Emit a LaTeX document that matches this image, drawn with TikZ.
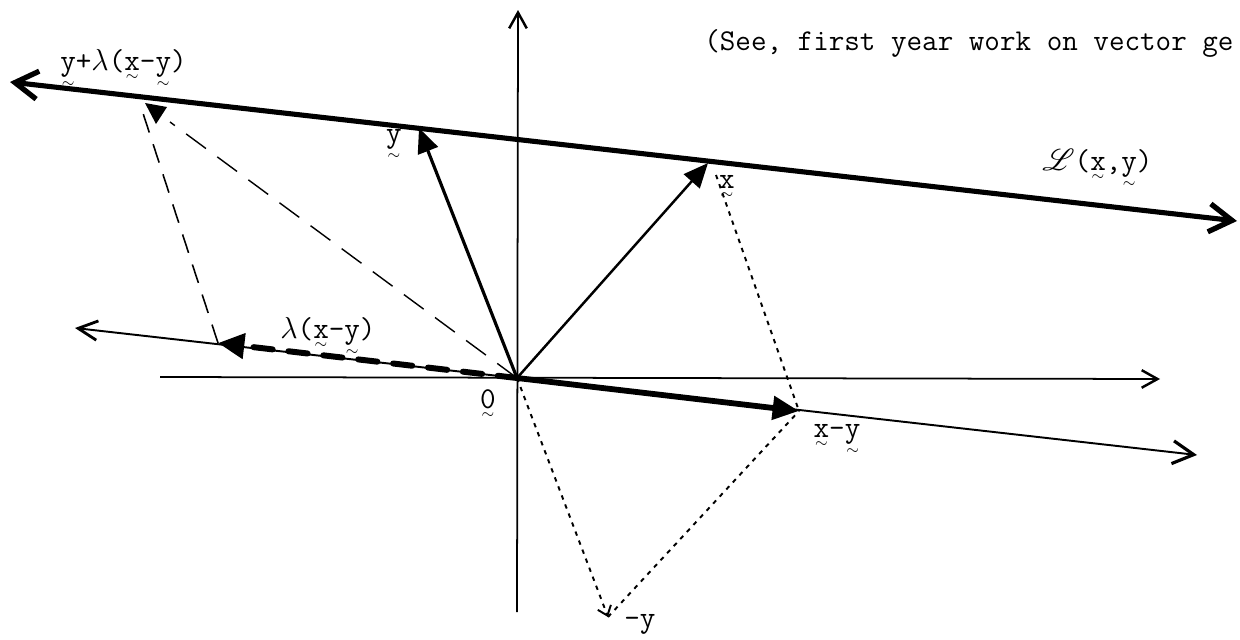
\documentclass[tikz,border=0pt]{standalone}
\usepackage{amsmath}
\usepackage{mathrsfs}
\usepackage{graphicx}
\usepackage{fontspec}
\usetikzlibrary{arrows.meta}
\newcommand{\tl}[2][-0.36em]{\leavevmode\ooalign{#2\cr\hidewidth\raisebox{#1}{$\scriptscriptstyle\sim$}\hidewidth\cr}}
\newcommand{\tly}{\tl[-0.58em]{y}}
\begin{document}
\begin{tikzpicture}[x=0.02cm,y=-0.02cm,
  lbl/.style={inner sep=0pt, font=\ttfamily\fontsize{17.2}{20}\selectfont},
  axis/.style={line width=1pt, -{Straight Barb[length=9pt,width=10pt,line width=1.4pt]}},
  bigline/.style={line width=2.9pt, {Straight Barb[length=13pt,width=16pt,line width=3pt]}-{Straight Barb[length=13pt,width=16pt,line width=3pt]}},
  parline/.style={line width=1.1pt, {Straight Barb[length=11pt,width=11pt,line width=1.6pt]}-{Straight Barb[length=12pt,width=13pt,line width=1.8pt]}},
  vec/.style={line width=1.8pt, -{Triangle[length=14pt,width=12pt]}},
  dvec/.style={line width=3.3pt, -{Triangle[length=15pt,width=13pt]}},
  lamvec/.style={line width=3.4pt, line cap=round, dash pattern=on 11pt off 9pt, -{Triangle[length=15pt,width=14pt]}},
  longdash/.style={line width=0.8pt, dash pattern=on 14pt off 8pt},
  meddash/.style={line width=0.9pt, dash pattern=on 11pt off 7pt},
  dots/.style={line width=1.1pt, dash pattern=on 2.5pt off 3pt}]
\clip (0,0) rectangle (1240,639);
\fill[white] (0,0) rectangle (1240,639);
% points
\coordinate (O) at (517,378);
\coordinate (hl) at (160,377);
\coordinate (hr) at (1160,379);
\coordinate (vt) at (518,10);
\coordinate (vb) at (517,612);
\coordinate (Ll) at (10,82);
\coordinate (Lr) at (1237,221);
\coordinate (pl) at (75,328);
\coordinate (pr) at (1197,455);
\coordinate (Y) at (419,128);
\coordinate (X) at (708,163);
\coordinate (Xs) at (716,175);
\coordinate (XY) at (799,411);
\coordinate (LM) at (218,343);
\coordinate (Pl) at (140,104);
\coordinate (Pr) at (170,122);
\coordinate (NY) at (608,617);
% axes
\draw[axis] (hl) -- (hr);
\draw[axis] (vb) -- (vt);
% lines
\draw[bigline] (Ll) -- (Lr);
\draw[parline] (pl) -- (pr);
% dashed construction
\draw[longdash] (O) -- (Pr);
\draw[meddash] (LM) -- (Pl);
\fill (145,103) -- (167,107) -- (156,124) -- cycle;
% dotted construction
\draw[dots] (Xs) -- (XY);
\draw[dots] (NY) -- (XY);
\draw[dots, -{Straight Barb[length=5pt,width=8pt,line width=1.1pt]}] (O) -- (NY);
% vectors
\draw[vec] (O) -- (Y);
\draw[vec, line width=1.4pt] (O) -- (X);
\draw[dvec] (O) -- (XY);
\draw[lamvec] (O) -- (LM);
% labels
\node[lbl, anchor=base west] (lp) at (60,70) {\tly+$\lambda$(\tl{x}-\tly)};
\node[lbl, anchor=base west] (note) at (704,51) {(See, first year work on vector ge};
\node[lbl, anchor=base] (ly) at (394,142) {\tly};
\node[lbl, anchor=base] (lx) at (727,188) {\tl{x}};
\node[lbl, anchor=base] (lxy) at (837,437) {\tl{x}-\tly};
\node[lbl, anchor=base west] (lny) at (624,627) {-y};
\node[lbl, anchor=base] (lo) at (488,408) {\tl{0}};
\node[lbl, anchor=base west] (llam) at (280,338) {$\lambda$(\tl{x}-\tly)};
\node[lbl, anchor=base west] (lL) at (1042,170) {$\mathscr{L}$(\tl{x},\tly)};
\end{tikzpicture}
\end{document}
